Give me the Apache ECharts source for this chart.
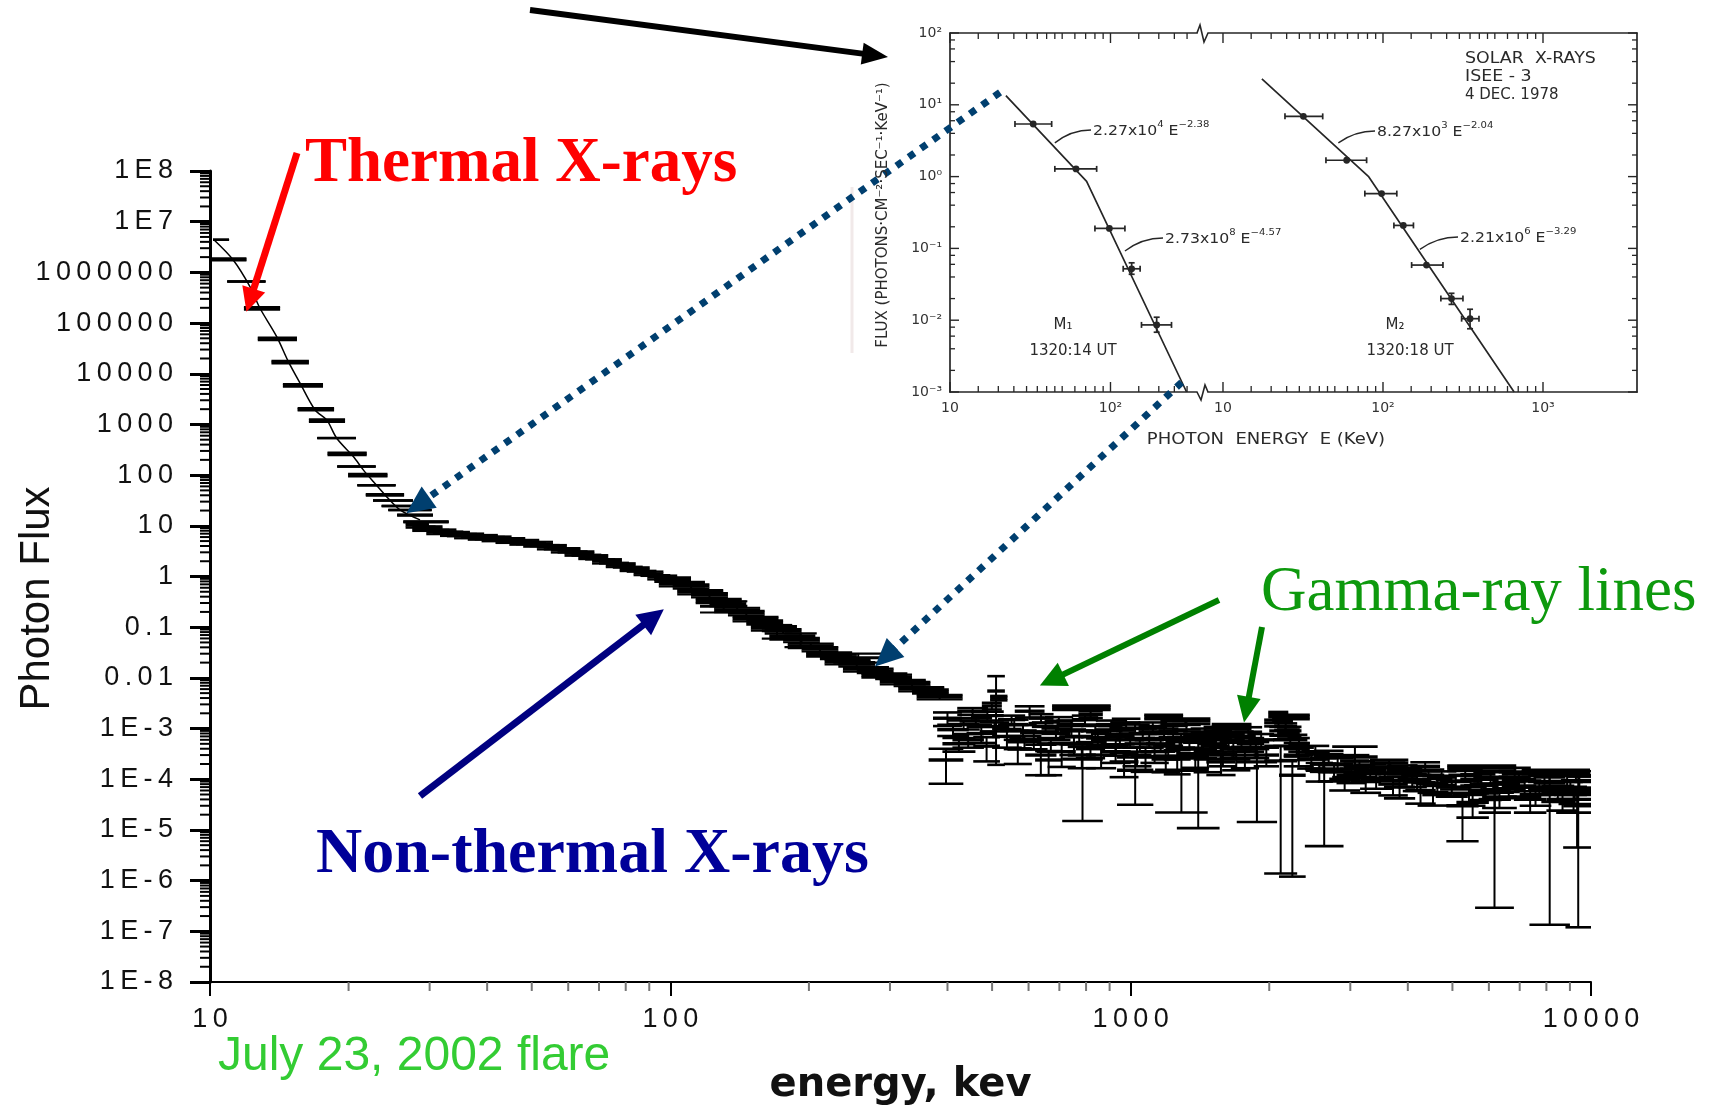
<!DOCTYPE html>
<html>
<head>
<meta charset="utf-8">
<title>July 23, 2002 flare - photon spectrum</title>
<script src="https://cdn.jsdelivr.net/npm/echarts@6/dist/echarts.min.js"></script>
<style>
html, body { margin: 0; padding: 0; background: #fff; }
#chart { width: 1709px; height: 1110px; }
</style>
</head>
<body>
<div id="chart"></div>
<script>
// ---------- main spectrum: tick labels ----------
const yTickLabels = ['1E-8', '1E-7', '1E-6', '1E-5', '1E-4', '1E-3', '0.01', '0.1', '1', '10',
  '100', '1000', '10000', '100000', '1000000', '1E7', '1E8'];
const xTickLabels = ['10', '100', '1000', '10000'];

// ---------- main spectrum: bins [E low keV, E high keV, photon flux, relative error] ----------
const thermalBins = [
  [10.15, 11.0, 4.4e6, 0.01], [10.1, 12.0, 1.8e6, 0.05], [10.9, 13.2, 6.6e5, 0.01],
  [11.85, 14.2, 1.95e5, 0.06], [12.7, 15.45, 4.9e4, 0.06], [13.6, 16.4, 1.7e4, 0.06],
  [14.4, 17.6, 5.9e3, 0.06], [15.5, 18.6, 2.0e3, 0.06], [16.4, 19.65, 1190, 0.06],
  [17.1, 20.75, 537, 0.01], [18.0, 21.9, 263, 0.06], [18.9, 22.9, 148, 0.01],
  [19.95, 24.3, 100, 0.06], [20.9, 25.3, 63, 0.01], [21.8, 26.4, 41, 0.04],
  [22.6, 27.6, 31.5, 0.01], [23.6, 28.9, 24.6, 0.01], [24.4, 30.3, 20.5, 0.01],
  [25.5, 30.5, 16.3, 0.03], [26.3, 33.0, 12.0, 0.03]
];

// thermal model curve [E keV, flux]
const thermalModel = [
  [10.17, 4.5e6], [11.23, 1.76e6], [12.22, 5.2e5], [12.84, 1.96e5], [13.96, 5.4e4],
  [14.8, 1.73e4], [15.69, 6.5e3], [16.91, 1.93e3], [17.93, 1.23e3], [18.85, 535],
  [20.48, 232], [21.53, 127], [22.63, 74.5], [24.0, 40.7], [25.87, 20.6], [28.59, 13.1]
];

const nonthermalBins = [
  [26.6, 29.9, 10.2, 0.1], [27.5, 30.9, 8.8, 0.1], [28.5, 32.0, 8.9, 0.1], [29.5, 33.1, 7.6, 0.1],
  [30.5, 34.3, 7.7, 0.1], [31.6, 35.5, 7.0, 0.1], [32.7, 36.7, 6.9, 0.1], [33.9, 38.0, 6.3, 0.1],
  [35.1, 39.4, 6.4, 0.1], [36.3, 40.7, 5.9, 0.1], [37.6, 42.2, 6.0, 0.1], [38.9, 43.7, 5.5, 0.1],
  [40.3, 45.2, 5.6, 0.1], [41.7, 46.8, 5.1, 0.1], [43.2, 48.4, 5.2, 0.1], [44.7, 50.1, 4.7, 0.1],
  [46.2, 51.9, 4.8, 0.1], [47.9, 53.7, 4.3, 0.1], [49.5, 55.6, 4.4, 0.1], [51.3, 57.5, 3.8, 0.1],
  [53.1, 59.6, 3.8, 0.1], [55.0, 61.7, 3.3, 0.1], [56.9, 63.8, 3.3, 0.1], [58.9, 66.1, 2.85, 0.1],
  [61.0, 68.4, 2.85, 0.1], [63.1, 70.8, 2.45, 0.1], [65.3, 73.3, 2.4, 0.1], [67.6, 75.9, 2.0, 0.1],
  [70.0, 78.5, 2.0, 0.1], [72.4, 81.3, 1.7, 0.1], [75.0, 84.1, 1.66, 0.1], [77.6, 87.1, 1.42, 0.1],
  [80.4, 90.2, 1.38, 0.1], [83.2, 93.3, 1.18, 0.1], [86.1, 96.6, 1.14, 0.1], [89.1, 100, 0.97, 0.1],
  [92.3, 103.5, 0.95, 0.1],
  [92.3, 110.9, 0.87, 0.1], [94.4, 118.9, 0.71, 0.1], [101.2, 121.6, 0.64, 0.1], [103.5, 130.3, 0.49, 0.1],
  [110.9, 133.4, 0.43, 0.1], [113.5, 142.9, 0.33, 0.1], [121.6, 146.2, 0.29, 0.1], [124.5, 156.7, 0.22, 0.1],
  [133.4, 160.3, 0.19, 0.1], [136.5, 171.8, 0.145, 0.1], [146.2, 175.8, 0.124, 0.1], [149.6, 188.4, 0.095, 0.1],
  [160.3, 192.8, 0.083, 0.1], [164.1, 206.5, 0.063, 0.1], [175.8, 211.3, 0.056, 0.1], [179.9, 226.5, 0.043, 0.1],
  [192.8, 231.7, 0.037, 0.1], [197.2, 248.3, 0.029, 0.1], [211.3, 254.1, 0.026, 0.1], [216.3, 272.3, 0.0205, 0.1],
  [231.7, 278.6, 0.0186, 0.1], [237.1, 298.5, 0.0148, 0.1], [254.1, 305.5, 0.0138, 0.1], [260.0, 327.3, 0.0112, 0.1],
  [278.6, 335.0, 0.0105, 0.1], [285.1, 358.9, 0.0083, 0.1], [305.5, 367.3, 0.0076, 0.1], [312.6, 393.6, 0.006, 0.1],
  [335.0, 402.7, 0.0054, 0.1], [342.8, 431.5, 0.0042, 0.1],
  [116, 147, 0.26, 0.25], [158, 184, 0.085, 0.3], [177, 208, 0.058, 0.3], [226, 290, 0.025, 0.2]
];

const gammaBins = [
  [372, 430, 1.6e-3, 0.3], [380, 445, 9.5e-4, 0.25], [364, 433, 2.4e-4, 0.66], [400, 470, 1.2e-3, 0.2],
  [410, 480, 6e-4, 0.3], [425, 500, 1.4e-3, 0.15], [440, 510, 8e-4, 0.35], [455, 520, 4.5e-4, 0.5],
  [470, 545, 1.1e-3, 0.2], [475, 525, 2.8e-3, 0.15], [488, 533, 5.5e-3, 0.965], [495, 540, 4e-3, 0.1],
  [500, 580, 7e-4, 0.4], [515, 590, 1.5e-3, 0.2], [530, 610, 4e-4, 0.5], [545, 625, 9e-4, 0.3],
  [560, 650, 2.2e-3, 0.25], [575, 660, 6e-4, 0.35], [590, 690, 3e-4, 0.6], [610, 700, 1.1e-3, 0.2],
  [625, 720, 5e-4, 0.3], [640, 740, 8e-4, 0.25], [660, 760, 3.5e-4, 0.5], [675, 905, 2.6e-3, 0.1],
  [690, 800, 1.2e-3, 0.2], [700, 810, 5e-4, 0.4], [720, 830, 7e-4, 0.3], [710, 870, 2.5e-4, 0.94],
  [745, 850, 1.5e-3, 0.2], [760, 880, 4e-4, 0.35], [780, 900, 9e-4, 0.25], [800, 930, 3e-4, 0.45],
  [820, 950, 6e-4, 0.3], [840, 980, 1.2e-3, 0.2], [860, 1000, 3.5e-4, 0.4], [880, 1020, 7e-4, 0.3],
  [900, 1040, 2.2e-4, 0.5], [934, 1120, 1.5e-4, 0.79], [950, 1100, 1e-3, 0.2], [970, 1130, 5e-4, 0.3],
  [1000, 1160, 2.8e-4, 0.5], [1020, 1180, 6e-4, 0.3], [1070, 1300, 1.7e-3, 0.1], [1050, 1210, 3.5e-4, 0.4],
  [1130, 1470, 1.5e-4, 0.853], [1100, 1270, 8e-4, 0.25], [1120, 1300, 4.5e-4, 0.35], [1160, 1490, 1.4e-3, 0.12],
  [1180, 1350, 2.5e-4, 0.5], [1200, 1380, 6e-4, 0.3], [1260, 1560, 3.2e-4, 0.966], [1300, 1500, 7e-4, 0.25],
  [1330, 1540, 4e-4, 0.35], [1370, 1580, 2.5e-4, 0.45], [1400, 1620, 5e-4, 0.3], [1440, 1660, 9e-4, 0.2],
  [1500, 1830, 1.1e-3, 0.12], [1480, 1700, 3e-4, 0.4], [1520, 1750, 6e-4, 0.3], [1560, 1790, 4e-4, 0.35],
  [1600, 1850, 7e-4, 0.25], [1650, 1900, 3e-4, 0.45], [1700, 2080, 2.2e-4, 0.935], [1700, 1950, 5e-4, 0.3],
  [1800, 2050, 6e-4, 0.3], [1990, 2200, 1.9e-3, 0.12], [2030, 2250, 1.5e-3, 0.1], [2050, 2300, 1.1e-3, 0.15],
  [2080, 2330, 8e-4, 0.2], [1950, 2300, 2.3e-4, 0.994], [2100, 2400, 1.2e-4, 0.99], [2200, 2450, 5e-4, 0.3],
  [2150, 2500, 3e-4, 0.4], [2300, 2650, 2.5e-4, 0.35], [2390, 2900, 1.6e-4, 0.97], [2450, 2800, 2e-4, 0.3],
  [2550, 3000, 1.4e-4, 0.35], [2740, 3440, 2.75e-4, 0.6], [2800, 3250, 1.2e-4, 0.3], [2900, 3400, 1.8e-4, 0.25],
  [3000, 3500, 9e-5, 0.4], [3310, 4010, 2.1e-4, 0.15], [3300, 3850, 1.3e-4, 0.3], [3450, 4000, 8e-5, 0.4],
  [3600, 4200, 1.5e-4, 0.25], [3800, 4400, 1e-4, 0.3], [3950, 4600, 6e-5, 0.45], [4100, 4800, 1.2e-4, 0.3],
  [4300, 5000, 7.5e-5, 0.35], [4870, 6880, 1.66e-4, 0.12], [4850, 5700, 3e-5, 0.8], [4700, 5500, 9e-5, 0.3],
  [5000, 5900, 5e-5, 0.4], [5200, 6200, 1e-4, 0.25], [5450, 6400, 6e-5, 0.35], [5700, 6700, 4e-5, 0.45],
  [5600, 6800, 5.5e-5, 0.9947], [6000, 7000, 8e-5, 0.3], [6300, 7400, 1.4e-4, 0.2], [6600, 7800, 7e-5, 0.35],
  [7000, 8200, 5e-5, 0.4], [7300, 8600, 9e-5, 0.3], [7350, 9000, 6e-5, 0.99775], [7070, 9950, 1.4e-4, 0.1],
  [8000, 9400, 4e-5, 0.4], [8300, 9800, 7e-5, 0.3], [8500, 10000, 5e-5, 0.35], [8700, 10000, 3e-5, 0.85],
  [8800, 10000, 6e-5, 0.998], [8900, 10000, 9e-5, 0.25],
  [390, 460, 5e-4, 0.3], [420, 490, 2.2e-3, 0.15], [450, 530, 1.8e-3, 0.2], [520, 600, 1.2e-3, 0.25],
  [540, 640, 5.5e-4, 0.3], [600, 680, 1.6e-3, 0.2], [620, 710, 2.4e-4, 0.5], [650, 750, 1.4e-3, 0.2],
  [700, 790, 9e-4, 0.25], [730, 840, 3e-4, 0.45], [770, 870, 1.9e-3, 0.15], [800, 900, 6.5e-4, 0.3],
  [850, 960, 9e-4, 0.25], [870, 990, 4.5e-4, 0.35], [910, 1050, 1.3e-3, 0.2], [930, 1070, 6e-4, 0.3],
  [960, 1110, 3e-4, 0.4], [990, 1140, 8e-4, 0.25], [1040, 1200, 1.1e-3, 0.2], [1080, 1250, 5e-4, 0.3],
  [1110, 1280, 2.5e-4, 0.45], [1150, 1330, 9e-4, 0.25], [1190, 1370, 4e-4, 0.35], [1230, 1420, 1.2e-3, 0.2],
  [1250, 1440, 6e-4, 0.3], [1290, 1480, 2.8e-4, 0.4], [1350, 1560, 8e-4, 0.25], [1420, 1640, 6.5e-4, 0.3],
  [1460, 1690, 2.2e-4, 0.45], [1540, 1770, 8e-4, 0.25], [1580, 1820, 2.5e-4, 0.4], [1620, 1870, 5.5e-4, 0.3],
  [1680, 1930, 8.5e-4, 0.25], [1750, 2000, 4e-4, 0.35], [1850, 2100, 3e-4, 0.4],
  [1950, 2250, 1.3e-3, 0.15], [2000, 2350, 9e-4, 0.2], [2040, 2420, 6e-4, 0.25], [2100, 2450, 1.7e-3, 0.1],
  [2150, 2450, 4e-4, 0.3], [2350, 2700, 3.5e-4, 0.3], [2400, 2750, 1.5e-4, 0.4], [2500, 2900, 2.8e-4, 0.3],
  [2600, 3050, 2e-4, 0.3], [2700, 3150, 1e-4, 0.4], [2850, 3300, 2.3e-4, 0.3], [3050, 3600, 1.5e-4, 0.3],
  [3150, 3700, 1e-4, 0.35], [3400, 3950, 1.7e-4, 0.25], [3550, 4150, 7e-5, 0.4], [3700, 4300, 1.3e-4, 0.3],
  [3900, 4500, 9e-5, 0.35], [4050, 4700, 1.8e-4, 0.2], [4200, 4900, 5.5e-5, 0.45], [4400, 5100, 1.1e-4, 0.3],
  [4600, 5400, 7e-5, 0.35], [4900, 5800, 1.2e-4, 0.25], [5100, 6000, 3.5e-5, 0.5], [5300, 6300, 7.5e-5, 0.3],
  [5550, 6600, 1.1e-4, 0.25], [5800, 6900, 4.5e-5, 0.4], [6100, 7200, 6.5e-5, 0.35], [6400, 7600, 1e-4, 0.25],
  [6800, 8000, 4e-5, 0.45], [7100, 8400, 7e-5, 0.3], [7500, 8800, 1.1e-4, 0.25], [7800, 9200, 5.5e-5, 0.35],
  [8200, 9600, 9e-5, 0.3], [8600, 10000, 1.2e-4, 0.2], [8400, 10000, 4e-5, 0.45]
];

// ---------- ISEE-3 inset, 4 Dec 1978 ----------
// points: [E keV, flux, E low, E high, flux low, flux high]
const m1Points = [
  [33.0, 5.4, 25.4, 43.0, 5.4, 5.4], [61, 1.28, 45, 82, 1.28, 1.28], [98.4, 0.19, 80, 123, 0.19, 0.19],
  [135.5, 0.052, 120, 153, 0.0436, 0.063], [194, 0.0086, 156, 240, 0.0068, 0.011]
];
const m2Points = [
  [31.8, 6.9, 24.4, 42, 6.9, 6.9], [59.3, 1.69, 44, 79, 1.69, 1.69], [98, 0.58, 77, 122, 0.58, 0.58],
  [134, 0.209, 117, 155, 0.209, 0.209], [187, 0.0586, 151, 237, 0.0586, 0.0586],
  [268, 0.02, 230, 316, 0.0166, 0.0237], [350, 0.0105, 310, 398, 0.0076, 0.0142]
];
// broken power-law fits
const m1Fit = [[22.3, 13.4], [71, 0.86], [298, 0.001]];
const m2Fit = [[17.5, 22.9], [81, 1.01], [660, 0.001]];
const insetYLabels = ['10\u207B\u00B3', '10\u207B\u00B2', '10\u207B\u00B9', '10\u2070', '10\u00B9', '10\u00B2'];
const insetXLabelsLeft = ['10', '10\u00B2'];
const insetXLabelsRight = ['10', '10\u00B2', '10\u00B3'];

// ---------- helpers ----------
const INK = '#262626';
const spaced = s => s.split('').join('\u2009');

function makeBinItem(barW, capW) {
  return function (params, api) {
    const eLo = api.value(0), eHi = api.value(1), f = api.value(2), err = api.value(3);
    const lo = f * (1 - err), hi = f * (1 + err);
    const eMid = Math.sqrt(eLo * eHi);
    const a = api.coord([eLo, f]), b = api.coord([eHi, f]);
    const aL = api.coord([eLo, lo]), bL = api.coord([eHi, lo]);
    const aH = api.coord([eLo, hi]), bH = api.coord([eHi, hi]);
    const vT = api.coord([eMid, hi]), vB = api.coord([eMid, lo]);
    const st = { stroke: '#000', lineWidth: capW };
    return {
      type: 'group',
      children: [
        { type: 'line', shape: { x1: a[0], y1: a[1], x2: b[0], y2: b[1] }, style: { stroke: '#000', lineWidth: barW } },
        { type: 'line', shape: { x1: aL[0], y1: aL[1], x2: bL[0], y2: bL[1] }, style: st },
        { type: 'line', shape: { x1: aH[0], y1: aH[1], x2: bH[0], y2: bH[1] }, style: st },
        { type: 'line', shape: { x1: vT[0], y1: vT[1], x2: vB[0], y2: vB[1] }, style: { stroke: '#000', lineWidth: 2 } }
      ]
    };
  };
}

function binSeries(name, data, barW, capW) {
  return {
    name, type: 'custom', xAxisIndex: 0, yAxisIndex: 0, data, silent: true, z: 3,
    encode: { x: [0, 1], y: 2 }, renderItem: makeBinItem(barW, capW)
  };
}

function pointItem(params, api) {
  const E = api.value(0), F = api.value(1), eLo = api.value(2), eHi = api.value(3);
  const fLo = api.value(4), fHi = api.value(5);
  const c = api.coord([E, F]), l = api.coord([eLo, F]), r = api.coord([eHi, F]);
  const t = api.coord([E, fHi]), b = api.coord([E, fLo]);
  const st = { stroke: INK, lineWidth: 1.7 };
  const kids = [
    { type: 'line', shape: { x1: l[0], y1: l[1], x2: r[0], y2: r[1] }, style: st },
    { type: 'line', shape: { x1: l[0], y1: l[1] - 3, x2: l[0], y2: l[1] + 3 }, style: st },
    { type: 'line', shape: { x1: r[0], y1: r[1] - 3, x2: r[0], y2: r[1] + 3 }, style: st },
    { type: 'circle', shape: { cx: c[0], cy: c[1], r: 3.4 }, style: { fill: INK } }
  ];
  if (b[1] - t[1] > 1) {
    kids.push(
      { type: 'line', shape: { x1: t[0], y1: t[1], x2: b[0], y2: b[1] }, style: st },
      { type: 'line', shape: { x1: t[0] - 3, y1: t[1], x2: t[0] + 3, y2: t[1] }, style: st },
      { type: 'line', shape: { x1: b[0] - 3, y1: b[1], x2: b[0] + 3, y2: b[1] }, style: st }
    );
  }
  return { type: 'group', children: kids };
}

function tickMarks(xi, yi, pts, dir, len, width, color) {
  return {
    type: 'custom', xAxisIndex: xi, yAxisIndex: yi, data: pts, silent: true, clip: false, z: 4,
    encode: { x: 0, y: 1 },
    renderItem: (params, api) => {
      const p = api.coord([api.value(0), api.value(1)]);
      return {
        type: 'line',
        shape: { x1: p[0], y1: p[1], x2: p[0] + dir[0] * len, y2: p[1] + dir[1] * len },
        style: { stroke: color, lineWidth: width }
      };
    }
  };
}

function tickTexts(xi, yi, pts, texts, dx, dy, align, vAlign) {
  return {
    type: 'custom', xAxisIndex: xi, yAxisIndex: yi, data: pts, silent: true, clip: false, z: 4,
    encode: { x: 0, y: 1 },
    renderItem: (params, api) => {
      const p = api.coord([api.value(0), api.value(1)]);
      return {
        type: 'text',
        style: {
          x: p[0] + dx, y: p[1] + dy, text: texts[params.dataIndex], align, verticalAlign: vAlign,
          fill: '#333', fontSize: 14, fontFamily: 'DejaVu Sans'
        }
      };
    }
  };
}

// tick positions
const decadeMul = [2, 3, 4, 5, 6, 7, 8, 9];
const mainYMinor = [], mainXMinor = [];
for (let e = -8; e < 8; e++) decadeMul.forEach(m => mainYMinor.push([10, m * Math.pow(10, e)]));
for (let e = 1; e < 4; e++) decadeMul.forEach(m => mainXMinor.push([m * Math.pow(10, e), 1e-8]));

const insetXMinorMul = [1.5, 2, 2.5, 3, 3.5, 4, 4.5, 5, 6, 7, 8, 9];
const insetYMajor = [1e-3, 1e-2, 1e-1, 1, 10, 100];
const insetYMinor = [];
for (let e = -3; e < 2; e++) [2, 4, 6, 8].forEach(m => insetYMinor.push(m * Math.pow(10, e)));
const leftXMajor = [10, 100], rightXMajor = [10, 100, 1000];
const leftXMinor = [], rightXMinor = [];
insetXMinorMul.forEach(m => { leftXMinor.push(m * 10); rightXMinor.push(m * 10, m * 100); });
[1.5, 2, 2.5, 3].forEach(m => leftXMinor.push(m * 100));

const L_XMAX = 346, R_XMIN = 8.06, R_XMAX = 3868;

function insetAxis(grid, pos, min, max) {
  return {
    type: 'log', logBase: 10, gridIndex: grid, position: pos, min, max,
    axisLine: { onZero: false, lineStyle: { color: INK, width: 1.7 } },
    axisTick: { show: false }, axisLabel: { show: false }, splitLine: { show: false }
  };
}

const option = {
  animation: false,
  backgroundColor: '#fff',
  grid: [
    { left: 210, top: 171, width: 1381, height: 811, containLabel: false, outerBoundsMode: 'none' },
    { left: 950, top: 33, width: 247, height: 359, containLabel: false, outerBoundsMode: 'none' },
    { left: 1208, top: 33, width: 429, height: 359, containLabel: false, outerBoundsMode: 'none' }
  ],
  xAxis: [
    {
      type: 'log', logBase: 10, gridIndex: 0, min: 10, max: 10000, interval: 1, splitNumber: 3,
      axisLine: { onZero: false, lineStyle: { color: '#000', width: 2 } },
      axisTick: { length: 14, lineStyle: { color: '#000', width: 2 } },
      axisLabel: {
        margin: 24, interval: 0, fontSize: 27, fontFamily: 'Liberation Sans', color: '#111',
        formatter: v => spaced(xTickLabels[Math.round(Math.log10(v)) - 1] || '')
      },
      splitLine: { show: false },
      name: 'energy, kev', nameLocation: 'middle', nameGap: 84, nameMoveOverlap: false,
      nameTextStyle: { fontFamily: 'DejaVu Sans', fontWeight: 'bold', fontSize: 40, color: '#111' }
    },
    insetAxis(1, 'bottom', 10, L_XMAX),
    insetAxis(1, 'top', 10, L_XMAX),
    insetAxis(2, 'bottom', R_XMIN, R_XMAX),
    insetAxis(2, 'top', R_XMIN, R_XMAX)
  ],
  yAxis: [
    {
      type: 'log', logBase: 10, gridIndex: 0, min: 1e-8, max: 1e8, interval: 1, splitNumber: 16,
      axisLine: { onZero: false, lineStyle: { color: '#000', width: 3 } },
      axisTick: { length: 20, lineStyle: { color: '#000', width: 3 } },
      axisLabel: {
        margin: 37, interval: 0, fontSize: 27, fontFamily: 'Liberation Sans', color: '#111',
        formatter: v => spaced(yTickLabels[Math.round(Math.log10(v)) + 8] || '')
      },
      splitLine: { show: false },
      name: 'Photon Flux', nameLocation: 'middle', nameRotate: 90, nameGap: 152, nameMoveOverlap: false,
      nameTextStyle: { fontFamily: 'Liberation Sans', fontSize: 42, color: '#111', padding: [0, 44, 0, 0] }
    },
    insetAxis(1, 'left', 1e-3, 1e2),
    insetAxis(2, 'right', 1e-3, 1e2)
  ],
  series: [
    binSeries('thermal', thermalBins, 2.5, 2),
    binSeries('non-thermal', nonthermalBins, 3, 2.2),
    binSeries('gamma', gammaBins, 3.4, 2.6),
    {
      name: 'thermal model', type: 'line', xAxisIndex: 0, yAxisIndex: 0, data: thermalModel,
      symbol: 'none', smooth: 0.3, silent: true, z: 4, lineStyle: { color: '#000', width: 1.5 }
    },
    tickMarks(0, 0, mainYMinor, [-1, 0], 10, 2, '#000'),
    tickMarks(0, 0, mainXMinor, [0, 1], 9, 2, '#777'),

    // inset, M1 panel
    {
      name: 'M1 fit', type: 'line', xAxisIndex: 1, yAxisIndex: 1, data: m1Fit, symbol: 'none',
      silent: true, lineStyle: { color: INK, width: 1.7 }
    },
    {
      name: 'M1', type: 'custom', xAxisIndex: 1, yAxisIndex: 1, data: m1Points, silent: true,
      encode: { x: [0, 2, 3], y: [1, 4, 5] }, renderItem: pointItem
    },
    // inset, M2 panel
    {
      name: 'M2 fit', type: 'line', xAxisIndex: 3, yAxisIndex: 2, data: m2Fit, symbol: 'none',
      silent: true, lineStyle: { color: INK, width: 1.7 }
    },
    {
      name: 'M2', type: 'custom', xAxisIndex: 3, yAxisIndex: 2, data: m2Points, silent: true,
      encode: { x: [0, 2, 3], y: [1, 4, 5] }, renderItem: pointItem
    },
    // inset ticks (inward)
    tickMarks(1, 1, insetYMajor.map(v => [10, v]), [1, 0], 9, 1.4, INK),
    tickMarks(1, 1, insetYMinor.map(v => [10, v]), [1, 0], 5, 1.3, INK),
    tickMarks(3, 2, insetYMajor.map(v => [R_XMAX, v]), [-1, 0], 9, 1.4, INK),
    tickMarks(3, 2, insetYMinor.map(v => [R_XMAX, v]), [-1, 0], 5, 1.3, INK),
    tickMarks(1, 1, leftXMajor.map(v => [v, 1e-3]), [0, -1], 10, 1.4, INK),
    tickMarks(1, 1, leftXMinor.map(v => [v, 1e-3]), [0, -1], 6, 1.3, INK),
    tickMarks(1, 1, leftXMajor.map(v => [v, 1e2]), [0, 1], 10, 1.4, INK),
    tickMarks(1, 1, leftXMinor.map(v => [v, 1e2]), [0, 1], 6, 1.3, INK),
    tickMarks(3, 2, rightXMajor.map(v => [v, 1e-3]), [0, -1], 10, 1.4, INK),
    tickMarks(3, 2, rightXMinor.map(v => [v, 1e-3]), [0, -1], 6, 1.3, INK),
    tickMarks(3, 2, rightXMajor.map(v => [v, 1e2]), [0, 1], 10, 1.4, INK),
    tickMarks(3, 2, rightXMinor.map(v => [v, 1e2]), [0, 1], 6, 1.3, INK),
    // inset tick labels
    tickTexts(1, 1, insetYMajor.map(v => [10, v]), insetYLabels, -8, 0, 'right', 'middle'),
    tickTexts(1, 1, leftXMajor.map(v => [v, 1e-3]), insetXLabelsLeft, 0, 9, 'center', 'top'),
    tickTexts(3, 2, rightXMajor.map(v => [v, 1e-3]), insetXLabelsRight, 0, 9, 'center', 'top')
  ]
};

const chart = echarts.init(document.getElementById('chart'), null, { renderer: 'canvas' });
chart.setOption(option);

// ---------- annotations ----------
const px = (xi, yi, v) => chart.convertToPixel({ xAxisIndex: xi, yAxisIndex: yi }, v);

function arrow(from, to, color, width, headLen, headW, dash) {
  const dx = to[0] - from[0], dy = to[1] - from[1];
  const L = Math.hypot(dx, dy), ux = dx / L, uy = dy / L, nx = -uy, ny = ux;
  const base = [to[0] - ux * headLen, to[1] - uy * headLen];
  return [
    {
      type: 'line', z: 100, silent: true,
      shape: { x1: from[0], y1: from[1], x2: base[0] + ux * 2, y2: base[1] + uy * 2 },
      style: { stroke: color, lineWidth: width, lineDash: dash || null, lineCap: 'butt' }
    },
    {
      type: 'polygon', z: 100, silent: true,
      shape: { points: [to, [base[0] + nx * headW / 2, base[1] + ny * headW / 2], [base[0] - nx * headW / 2, base[1] - ny * headW / 2]] },
      style: { fill: color }
    }
  ];
}

function label(text, x, y, opts) {
  return Object.assign({
    type: 'text', z: 100, silent: true, x, y,
    style: Object.assign({ text, align: 'left', verticalAlign: 'middle' }, opts.style)
  }, opts.el || {});
}

function leader(from, to) {
  return {
    type: 'bezierCurve', z: 100, silent: true,
    shape: { x1: from[0], y1: from[1], x2: to[0], y2: to[1], cpx1: from[0] + (to[0] - from[0]) * 0.45, cpy1: to[1] },
    style: { stroke: INK, lineWidth: 1.3, fill: null }
  };
}

const insetFont = { fill: '#2a2a2a', fontFamily: 'DejaVu Sans', fontSize: 15 };
const supRich = {
  b: { fontSize: 14, fontFamily: 'DejaVu Sans', fill: '#2a2a2a', lineHeight: 18, verticalAlign: 'bottom' },
  s: { fontSize: 9, fontFamily: 'DejaVu Sans', fill: '#2a2a2a', lineHeight: 18, verticalAlign: 'top' }
};
const fitText = (base, exp, pow) => '{b|' + base + '}{s|' + exp + '}{b| E}{s|' + pow + '}';

const g = [];
// pointer from the caption to the inset
g.push(...arrow([530, 10], [888, 57], '#000', 6, 26, 22));
// dotted guides linking the inset spectrum to the same energies on the main spectrum
g.push(...arrow(px(1, 1, [20.5, 14.9]), px(0, 0, [26.7, 17.7]), '#003f6f', 7, 28, 26, [7, 8]));
g.push(...arrow(px(1, 1, [277.7, 1.36e-3]), px(0, 0, [278.4, 0.0167]), '#003f6f', 7, 28, 26, [7, 8]));
// spectral components
g.push(...arrow([297, 153], px(0, 0, [12.0, 1.68e5]), '#ff0000', 7, 24, 24));
g.push(...arrow([420, 796], px(0, 0, [96.8, 0.226]), '#000080', 7, 26, 26));
g.push(...arrow([1219, 600], px(0, 0, [635, 7.05e-3]), '#008000', 6, 26, 26));
g.push(...arrow([1262, 627], px(0, 0, [1763, 1.32e-3]), '#008000', 6, 26, 24));

g.push(label('Thermal X-rays', 305, 165, { style: { fill: '#ff0000', fontFamily: 'Liberation Serif', fontWeight: 'bold', fontSize: 63 } }));
g.push(label('Non-thermal X-rays', 316, 855, { style: { fill: '#000099', fontFamily: 'Liberation Serif', fontWeight: 'bold', fontSize: 64 } }));
g.push(label('Gamma-ray lines', 1261, 593, { style: { fill: '#0d990d', fontFamily: 'Liberation Serif', fontSize: 63 } }));
g.push(label('July 23, 2002 flare', 218, 1057, { style: { fill: '#33cc33', fontFamily: 'Liberation Sans', fontSize: 48 } }));

// inset decorations: axis breaks and captions
g.push({ type: 'polyline', z: 100, silent: true, shape: { points: [[1197, 33], [1200, 25], [1204, 42], [1208, 33]] }, style: { stroke: INK, lineWidth: 1.6, fill: null } });
g.push({ type: 'polyline', z: 100, silent: true, shape: { points: [[1197, 392], [1201, 400], [1205, 385], [1208, 392]] }, style: { stroke: INK, lineWidth: 1.6, fill: null } });
g.push({ type: 'line', z: 1, silent: true, shape: { x1: 852, y1: 187, x2: 852, y2: 353 }, style: { stroke: '#f1e9e9', lineWidth: 3 } });

g.push(label('SOLAR  X-RAYS', 1465, 59, { style: insetFont, el: { scaleX: 1.16 } }));
g.push(label('ISEE - 3', 1465, 77, { style: insetFont, el: { scaleX: 1.16 } }));
g.push(label('4 DEC. 1978', 1465, 95, { style: insetFont }));
g.push(label('M\u2081', 1063, 325, { style: Object.assign({}, insetFont, { align: 'center' }) }));
g.push(label('1320:14 UT', 1073, 351, { style: Object.assign({}, insetFont, { align: 'center' }) }));
g.push(label('M\u2082', 1395, 325, { style: Object.assign({}, insetFont, { align: 'center' }) }));
g.push(label('1320:18 UT', 1410, 351, { style: Object.assign({}, insetFont, { align: 'center' }) }));
g.push(label('PHOTON  ENERGY  E (KeV)', 1266, 440, { style: Object.assign({}, insetFont, { align: 'center', fontSize: 15 }), el: { scaleX: 1.2 } }));
g.push(label('FLUX (PHOTONS\u00B7CM\u207B\u00B2\u00B7SEC\u207B\u00B9\u00B7KeV\u207B\u00B9)', 883, 215,
  { style: Object.assign({}, insetFont, { align: 'center', fontSize: 15 }), el: { rotation: Math.PI / 2 } }));

g.push(label(fitText('2.27x10', '4', '\u22122.38'), 1093, 129, { style: { rich: supRich }, el: { scaleX: 1.12 } }));
g.push(label(fitText('2.73x10', '8', '\u22124.57'), 1165, 237, { style: { rich: supRich }, el: { scaleX: 1.12 } }));
g.push(label(fitText('8.27x10', '3', '\u22122.04'), 1377, 130, { style: { rich: supRich }, el: { scaleX: 1.12 } }));
g.push(label(fitText('2.21x10', '6', '\u22123.29'), 1460, 236, { style: { rich: supRich }, el: { scaleX: 1.12 } }));
g.push(leader(px(1, 1, [45, 2.95]), [1091, 130]));
g.push(leader(px(1, 1, [123, 0.092]), [1163, 238]));
g.push(leader(px(3, 2, [52.6, 2.95]), [1375, 131]));
g.push(leader(px(3, 2, [170, 0.097]), [1458, 237]));

chart.setOption({ graphic: g });
</script>
</body>
</html>
